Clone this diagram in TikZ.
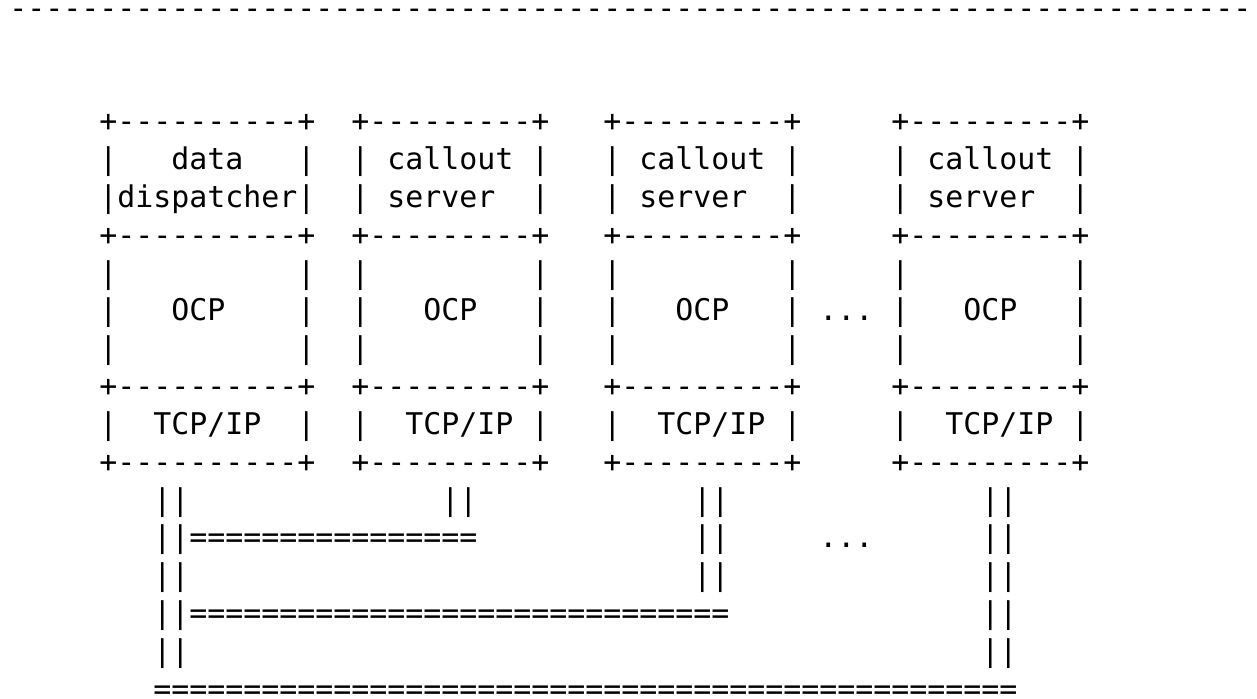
\documentclass[tikz,border=0pt]{standalone}
\usepackage{fontspec}
\setmonofont{DejaVu Sans Mono}
\tikzset{asc/.style={inner sep=0pt, outer sep=0pt, anchor=base west, text=black,
  font=\ttfamily\fontsize{14.95}{18.9}\selectfont}}
\newcommand\asc[4]{\node[asc] (#1) at ({4.65pt+9pt*#2},{-9.3pt-18.9pt*#3}) {#4};}
\begin{document}
\begin{tikzpicture}
\fill[white] (0,0) rectangle (628.5pt,-349.5pt);
\useasboundingbox (0,0) rectangle (628.5pt,-349.5pt);
% rule
\asc{rule}{0}{0}{---------------------------------------------------------------------}
% box borders
\foreach \r in {3,6,10,12}{
  \asc{b1t\r}{5}{\r}{+----------+}
  \asc{b2t\r}{19}{\r}{+---------+}
  \asc{b3t\r}{33}{\r}{+---------+}
  \asc{b4t\r}{49}{\r}{+---------+}
}
\foreach \r in {4,7,8,9,11}{
  \foreach \c in {5,16,19,29,33,43,49,59}{
    \asc{v\r-\c}{\c}{\r}{|}
  }
}
\foreach \c in {19,29,33,43,49,59}{
  \asc{v5-\c}{\c}{5}{|}
}
% labels
\asc{data}{9}{4}{data}
\asc{disp}{5}{5}{|dispatcher|}
\asc{call2}{21}{4}{callout}
\asc{serv2}{21}{5}{server}
\asc{call3}{35}{4}{callout}
\asc{serv3}{35}{5}{server}
\asc{call4}{51}{4}{callout}
\asc{serv4}{51}{5}{server}
\asc{ocp1}{9}{8}{OCP}
\asc{ocp2}{23}{8}{OCP}
\asc{ocp3}{37}{8}{OCP}
\asc{ocp4}{53}{8}{OCP}
\asc{dots1}{45}{8}{...}
\asc{tcp1}{8}{11}{TCP/IP}
\asc{tcp2}{22}{11}{TCP/IP}
\asc{tcp3}{36}{11}{TCP/IP}
\asc{tcp4}{52}{11}{TCP/IP}
% links
\foreach \r in {13,14,15,16,17}{
  \asc{l1-\r}{8}{\r}{||}
  \asc{l4-\r}{54}{\r}{||}
}
\asc{l2-13}{24}{13}{||}
\foreach \r in {13,14,15}{
  \asc{l3-\r}{38}{\r}{||}
}
\asc{bus1}{10}{14}{================}
\asc{dots2}{45}{14}{...}
\asc{bus2}{10}{16}{==============================}
\asc{bus3}{8}{18}{================================================}
\end{tikzpicture}
\end{document}
